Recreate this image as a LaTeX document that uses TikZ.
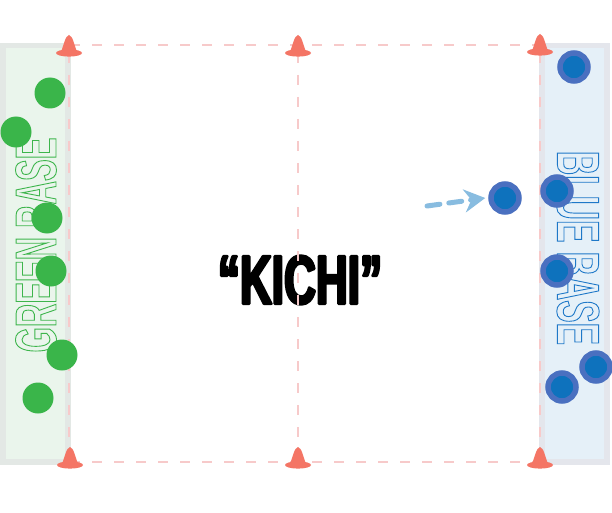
\documentclass[tikz,border=0pt]{standalone}
\usepackage{fontspec}
\usetikzlibrary{arrows.meta}
\newfontfamily\basefont[FakeStretch=0.56]{Liberation Sans Bold}
\newfontfamily\kichifont[FakeStretch=0.64]{Liberation Sans Bold}
\definecolor{ggray}{HTML}{E3E8E5}
\definecolor{gfill}{HTML}{EAF5EC}
\definecolor{bgray}{HTML}{E4E6EC}
\definecolor{bfill}{HTML}{E5F0F8}
\definecolor{gtext}{HTML}{3DB54C}
\definecolor{btext}{HTML}{1E78C8}
\definecolor{gdot}{HTML}{3AB54A}
\definecolor{bdotout}{HTML}{4A70C0}
\definecolor{bdotin}{HTML}{0E72BD}
\definecolor{conecol}{HTML}{F47565}
\definecolor{fieldcol}{HTML}{F7CACA}
\definecolor{arrowcol}{HTML}{88BCE0}
\newcommand\outltext[1]{\special{pdf:literal direct 1 Tr 0.9 w}#1\special{pdf:literal direct 0 Tr}}
\newcommand\heavytext[1]{\special{pdf:literal direct 2 Tr 2.6 w 1 j}#1\special{pdf:literal direct 0 Tr}}
\tikzset{
  fieldline/.style={draw=fieldcol, line width=1.1pt, dash pattern=on 10pt off 12pt},
  gplayer/.style={circle, fill=gdot, minimum size=31pt, inner sep=0pt},
  bplayer/.style={circle, fill=bdotin, draw=bdotout, line width=5.5pt, minimum size=28pt, inner sep=0pt},
  basetext/.style={inner sep=0pt, font=\basefont\fontsize{58}{58}\selectfont},
  runarrow/.style={draw=arrowcol, line width=5pt, line cap=round, dash pattern=on 13pt off 9pt,
    -{Stealth[length=21pt, width=23pt, inset=7pt]}},
  pics/cone/.style={code={
    \fill[conecol] (0,0) ellipse [x radius=13, y radius=3.6];
    \fill[conecol] (-8.5,0) .. controls (-5,-8) and (-4,-17) .. (0,-18)
       .. controls (4,-17) and (5,-8) .. (8.5,0) -- cycle;
  }}
}
\begin{document}
\begin{tikzpicture}[x=1pt,y=-1pt]
\useasboundingbox (0,0) rectangle (612,513);
\fill[white] (0,0) rectangle (612,513);
% bases
\fill[ggray] (0,43) rectangle (71,465);
\fill[gfill] (6,48) rectangle (65,459);
\fill[bgray] (539,43) rectangle (610,465);
\fill[bfill] (545,48) rectangle (604,459);
% base labels
\node[basetext, rotate=90, text=gtext] (gbase) at (36,245) {\outltext{GREEN BASE}};
\node[basetext, rotate=-90, text=btext, font=\basefont\fontsize{60}{60}\selectfont] (bbase) at (578,248) {\outltext{BLUE BASE}};
% title
\node[inner sep=0pt, font=\kichifont\fontsize{69}{69}\selectfont] (title) at (300,280) {\heavytext{“KICHI”}};
% field lines
\draw[fieldline] (70,45) -- (540,45);
\draw[fieldline] (70,462) -- (540,462);
\draw[fieldline] (69,53) -- (69,462);
\draw[fieldline] (540,53) -- (540,462);
\draw[fieldline] (298,53) -- (298,462);
% cones
\pic at (69,53) {cone};
\pic at (298,53) {cone};
\pic at (540,52) {cone};
\pic at (70,465) {cone};
\pic at (298,465) {cone};
\pic at (540,465) {cone};
% green players
\node[gplayer] (g1) at (50,93) {};
\node[gplayer] (g2) at (16,132) {};
\node[gplayer] (g3) at (47,218) {};
\node[gplayer] (g4) at (51,271) {};
\node[gplayer] (g5) at (62,355) {};
\node[gplayer] (g6) at (38,398) {};
% blue players
\node[bplayer] (b1) at (574,67) {};
\node[bplayer] (b2) at (557,191) {};
\node[bplayer] (b3) at (557,271) {};
\node[bplayer] (b4) at (596,367) {};
\node[bplayer] (b5) at (562,387) {};
\node[bplayer] (runner) at (505,198) {};
% run arrow
\coordinate (runstart) at (427,206);
\draw[runarrow] (runstart) -- ([xshift=-3pt]runner.west);
\end{tikzpicture}
\end{document}
